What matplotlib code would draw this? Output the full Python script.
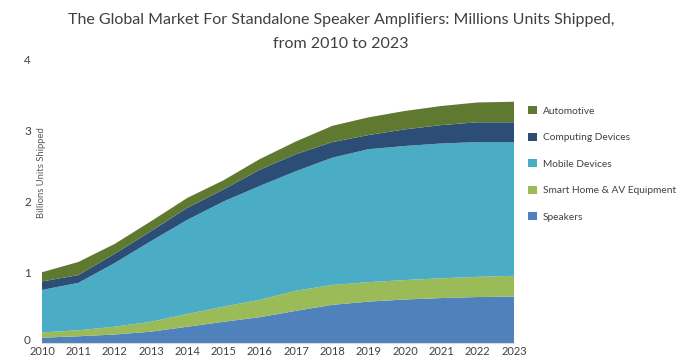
import matplotlib
matplotlib.use("Agg")
import matplotlib.pyplot as plt
import matplotlib.transforms as mtransforms
from matplotlib.patches import Patch

plt.rcParams["font.family"] = ["Lato", "DejaVu Sans"]

years = [2010, 2011, 2012, 2013, 2014, 2015, 2016,
         2017, 2018, 2019, 2020, 2021, 2022, 2023]

# Billions of units shipped per segment (stacked bottom to top)
speakers = [0.075, 0.095, 0.12, 0.16, 0.23, 0.30, 0.365,
            0.455, 0.54, 0.585, 0.615, 0.635, 0.65, 0.655]
smart_home = [0.075, 0.085, 0.11, 0.14, 0.18, 0.215, 0.245,
              0.285, 0.28, 0.275, 0.275, 0.28, 0.285, 0.295]
mobile = [0.60, 0.67, 0.90, 1.14, 1.33, 1.485, 1.61,
          1.69, 1.80, 1.88, 1.895, 1.905, 1.905, 1.89]
computing = [0.12, 0.11, 0.13, 0.14, 0.17, 0.17, 0.23,
             0.24, 0.22, 0.20, 0.235, 0.26, 0.28, 0.28]
automotive = [0.13, 0.185, 0.14, 0.14, 0.14, 0.13, 0.15,
              0.18, 0.23, 0.25, 0.26, 0.27, 0.28, 0.29]

series = [speakers, smart_home, mobile, computing, automotive]
labels = ["Speakers", "Smart Home & AV Equipment", "Mobile Devices",
          "Computing Devices", "Automotive"]
colors = ["#4F81BD", "#9BBB59", "#4BACC6", "#2C4D75", "#5F7A30"]

fig = plt.figure(figsize=(6.78, 3.61), dpi=100)
ax = fig.add_axes([42 / 678, 1 - 343 / 361, (514 - 42) / 678, (343 - 60) / 361])

ax.stackplot(years, *series, colors=colors, linewidth=0)

ax.set_xlim(2010, 2023)
ax.set_ylim(0, 4)
ax.set_xticks(years)
ax.set_xticklabels([str(y) for y in years], fontsize=8, color="#404040")
ax.set_yticks([0, 1, 2, 3, 4])
ax.set_yticklabels(["0", "1", "2", "3", "4"], fontsize=8.5, color="#404040")
ax.tick_params(axis="x", length=0, pad=2.5)
ax.tick_params(axis="y", length=0, pad=8)
for side in ["top", "right", "left"]:
    ax.spines[side].set_visible(False)
ax.spines["bottom"].set_color("#d9d9d9")

# lift the zero label a little so it clears the first year label
zero_label = ax.get_yticklabels()[0]
zero_label.set_transform(zero_label.get_transform() +
                         mtransforms.ScaledTranslation(0, 4 / 100, fig.dpi_scale_trans))

fig.text(41 / 678, 1 - 173 / 361, "Billions Units Shipped", rotation=90,
         ha="center", va="center", fontsize=6.8, color="#595959")

fig.text(341 / 678, 1 - 20 / 361,
         "The Global Market For Standalone Speaker Amplifiers: Millions Units Shipped,",
         ha="center", va="center", fontsize=11.5, color="#404040")
fig.text(341 / 678, 1 - 44 / 361, "from 2010 to 2023",
         ha="center", va="center", fontsize=11.5, color="#404040")

handles = [Patch(facecolor=c, edgecolor="none") for c in colors][::-1]
fig.legend(handles, labels[::-1], loc="upper left",
           bbox_to_anchor=(524 / 678, 1 - 102 / 361), frameon=False,
           fontsize=7.3, handlelength=0.85, handleheight=0.85,
           handletextpad=0.6, labelspacing=1.68, labelcolor="#404040",
           borderaxespad=0)

fig.savefig("out.png", dpi=100)
